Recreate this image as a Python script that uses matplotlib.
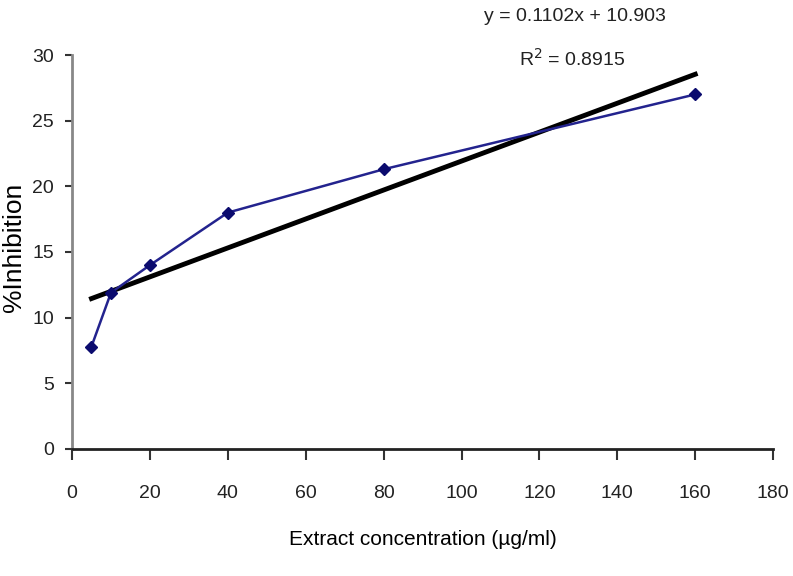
import numpy as np
import matplotlib as mpl
import matplotlib.pyplot as plt

mpl.rcParams.update({
    "font.family": ["Liberation Sans", "DejaVu Sans"],
    "font.size": 14,
})

# data
conc = [5, 10, 20, 40, 80, 160]
inhibition = [7.8, 11.9, 14.0, 18.0, 21.3, 27.0]
slope, intercept = 0.1102, 10.903
r2 = 0.8915

xticks = [0, 20, 40, 60, 80, 100, 120, 140, 160, 180]
yticks = [0, 5, 10, 15, 20, 25, 30]

fig = plt.figure(figsize=(7.93, 5.76), dpi=100)
ax = fig.add_axes([0.0908, 0.2205, 0.8842, 0.684])

ax.plot(conc, inhibition, color="#23238e", lw=1.8, marker="D", ms=6,
        mfc="#0b0b6e", mec="#0b0b6e", zorder=3)

# linear trendline from the printed equation
fx = np.array([conc[0], conc[-1]])
ax.plot(fx, slope * fx + intercept, color="k", lw=3.5, zorder=2)

ax.set_xlim(0, 180)
ax.set_ylim(0, 30)
ax.set_xticks(xticks)
ax.set_yticks(yticks)
for s in ["top", "right"]:
    ax.spines[s].set_visible(False)
ax.spines["left"].set_color("#888888")
ax.spines["left"].set_linewidth(2.0)
ax.spines["bottom"].set_color("#222222")
ax.spines["bottom"].set_linewidth(2.0)
ax.tick_params(axis="x", length=8, width=1.5, color="#333333", pad=18,
               labelsize=14, labelcolor="#222222")
ax.tick_params(axis="y", length=5, width=1.5, color="#333333", pad=8,
               labelsize=14, labelcolor="#222222")

ax.set_xlabel("Extract concentration (µg/ml)", fontsize=15, labelpad=20)
ax.set_ylabel("%Inhibition", fontsize=19)
ax.yaxis.set_label_coords(-0.066, 0.513)

fig.text(0.725, 0.972, f"y = {slope}x + {intercept}", ha="center",
         va="center", fontsize=14, color="#222222")
fig.text(0.722, 0.897, f"R$^2$ = {r2}", ha="center", va="center",
         fontsize=14, color="#222222")

fig.savefig("out.png", dpi=100)
